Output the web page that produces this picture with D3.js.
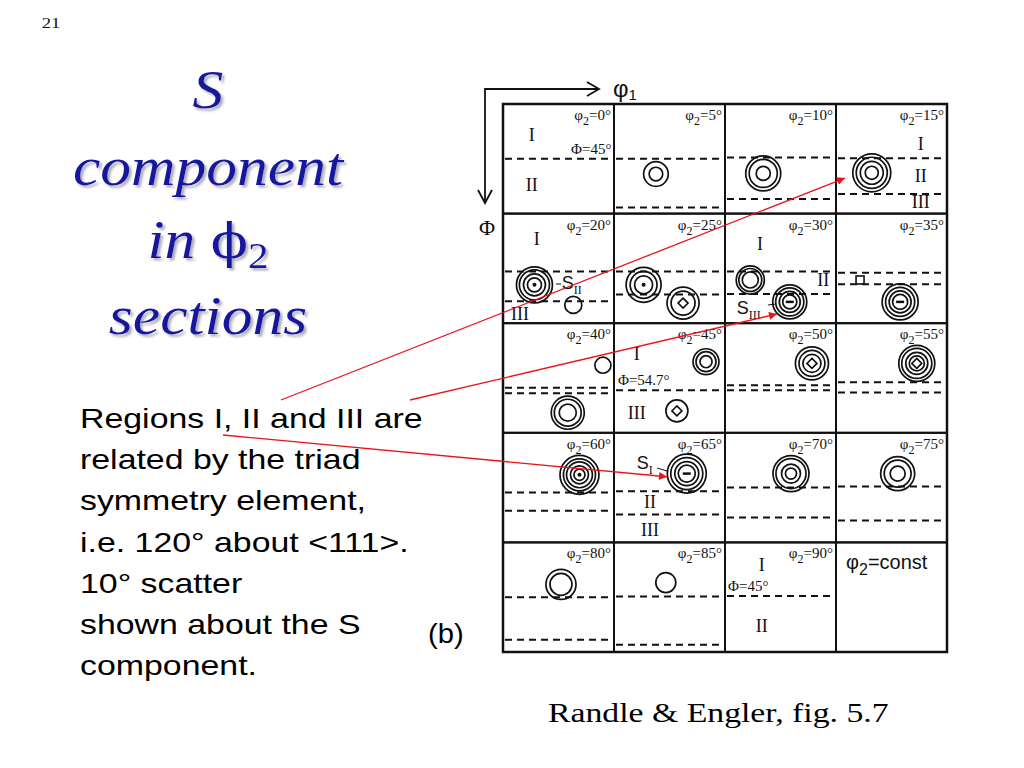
<!DOCTYPE html>
<html><head><meta charset="utf-8">
<script src="https://cdn.jsdelivr.net/npm/d3@7"></script>
<style>html,body{margin:0;padding:0;background:#fff;} svg{display:block}</style>
</head><body>
<svg id="c" width="1024" height="768"></svg>
<script>
// ---------- data ----------
const phi2Values = [0,5,10,15,20,25,30,35,40,45,50,55,60,65,70,75,80,85,90];
// Phi (deg) of the dashed region boundaries in each section
const boundaryLines = [[45],[45,85],[44,78],[44.5,74],[47.5,72],[47.5,66.5],[47.5,66],[48.5,58],
  [53,57.5],[55],[51,55],[48.5,57],[49,64],[48,67],[45,69.5],[44,72],[45,80],[44.5,84],[44]];
// contour peaks: section phi2, position (phi1, Phi) in degrees, ring radii in degrees, core mark
const contourPhi2 = [5,10,15,20,20,25,25,30,30,35,35,40,40,45,45,50,55,60,65,70,75,80,85];
const contourPhi1 = [34,31,29,25.5,57,24,56,20.5,52.5,19.5,52,81,52.5,74.6,51,70.5,65.5,62,59,53.5,50,47,42];
const contourPhi  = [57.5,57,56.5,58.5,75,58.5,73.5,54.5,72.5,54.5,72.5,34.5,73.5,31.6,72,33,33,34.5,33.5,33.5,33.5,34.5,33];
const contourRings = [[10,5.5],[14.2,11.4,5.7],[15.4,12.6,9.3,5.3],[14.6,12.2,8.9,5.7],[6.9],
  [14.2,10.9,7.3],[13,9.7],[11.4,9.3,6.5],[13.8,11.4,8.5,5.7],[],[14.6,11.8,8.9,6.1],[6.5],
  [13.4,10.9,6.9],[10.5,8.1,4.9],[8.9],[13.4,10.5,7.3],[14.6,12.2,8.9,6.1],[15.8,13,10.5,7.3,4.5],
  [15.8,13,9.7,6.9],[14.6,12.2,7.7,4.5],[13.8,10.9,6.1],[12.2,8.9],[8.1]];
const contourCore = ["none","none","none","dot","none","dot","diamond","none","dash","square","dash","none",
  "none","none","diamond","diamond","diamond","dot","dash","none","none","none","none"];
// region labels inside sections
const regionPhi2 = [0,0,0,15,15,15,20,20,30,30,45,45,45,65,65,90,90,90];
const regionText = ["I","II","Φ=45°","I","II","III","I","III","I","II","I","Φ=54.7°","III","II","III","I","Φ=45°","II"];
const regionPhi1 = [23.3,23.3,88,68.7,68.7,68.7,27.3,13.8,28.4,79.7,18.4,3.2,18.4,29.2,29.2,29.8,2.4,29.8];
const regionPhi  = [25.5,66.5,37,32.8,59,80,20.3,81.9,24.4,54.5,24.7,46.6,73.9,56.5,79.2,18.2,35.3,68];
// S component labels
const sPhi2 = [20,30,65];
const sSub  = ["II","III","I"];
const sPhi1 = [47.6,9.5,18.4];
const sPhi  = [57,77.5,24.8];
// red arrows: target section and (phi1, Phi) of the tip, start in slide coordinates
const arrowPhi2 = [15,30,65];
const arrowPhi1 = [7.3,42.2,43];
const arrowPhi  = [60.8,82.4,36.1];
const arrowStart = [[281,400],[410,400],[223,435]];
// slide texts
const titleLines = ["S","component","in ϕ2","sections"];
const bodyLines = ["Regions I, II and III are","related by the triad","symmetry element,",
  "i.e. 120° about <111>.","10° scatter","shown about the S","component."];

// ---------- drawing ----------
const svg = d3.select("#c");
svg.append("rect").attr("width",1024).attr("height",768).attr("fill","#fff");
const defs = svg.append("defs");
const f = defs.append("filter").attr("id","sh").attr("x","-10%").attr("y","-10%").attr("width","130%").attr("height","140%");
f.append("feDropShadow").attr("dx",2.5).attr("dy",2.5).attr("stdDeviation",1).attr("flood-color","#9a9aaa").attr("flood-opacity",0.8);

const col = d3.scaleBand().domain(d3.range(4)).range([503,947]);
const row = d3.scaleBand().domain(d3.range(5)).range([104,652]);
const sx = i => d3.scaleLinear().domain([0,90]).range([col(i%4), col(i%4)+col.bandwidth()]);
const sy = i => d3.scaleLinear().domain([0,90]).range([row(Math.floor(i/4)), row(Math.floor(i/4))+row.bandwidth()]);
const idx = p => phi2Values.indexOf(p);
const pxPerDeg = col.bandwidth()/90;

const g = svg.append("g");
// dashed boundaries
phi2Values.forEach((p,i)=>{
  const x=sx(i), y=sy(i);
  g.selectAll(null).data(boundaryLines[i]).enter().append("line")
    .attr("x1",x(0)+2).attr("x2",x(90)-1).attr("y1",d=>y(d)).attr("y2",d=>y(d))
    .attr("stroke","#111").attr("stroke-width",2).attr("stroke-dasharray","7,5");
});
// grid
const cells = d3.range(20);
g.selectAll(".cell").data(cells).enter().append("rect")
  .attr("x",i=>col(i%4)).attr("y",i=>row(Math.floor(i/4)))
  .attr("width",col.bandwidth()).attr("height",row.bandwidth())
  .attr("fill","none").attr("stroke","#111").attr("stroke-width",2);
g.append("rect").attr("x",503).attr("y",104).attr("width",444).attr("height",548)
  .attr("fill","none").attr("stroke","#111").attr("stroke-width",2.5);

// phi2 labels
phi2Values.forEach((p,i)=>{
  const t = g.append("text").attr("x",sx(i)(90)-3).attr("y",sy(i)(0)+16)
    .attr("text-anchor","end").attr("font-family","Liberation Serif, Times New Roman, serif")
    .attr("font-size",15).attr("fill","#111");
  t.append("tspan").text("φ");
  t.append("tspan").attr("dy",5).attr("font-size",12).text("2");
  t.append("tspan").attr("dy",-5).text("="+p+"°");
});
// const cell
{
  const t = g.append("text").attr("x",col(3)+10).attr("y",row(4)+27)
    .attr("font-family","Liberation Sans, Arial, sans-serif").attr("font-size",20).attr("fill","#111");
  t.append("tspan").text("φ");
  t.append("tspan").attr("dy",6).attr("font-size",16).text("2");
  t.append("tspan").attr("dy",-6).text("=const");
}

// contours
contourPhi2.forEach((p,k)=>{
  const i=idx(p), cx=sx(i)(contourPhi1[k]), cy=sy(i)(contourPhi[k]);
  g.selectAll(null).data(contourRings[k]).enter().append("circle")
    .attr("cx",cx).attr("cy",cy).attr("r",d=>d*pxPerDeg)
    .attr("fill","none").attr("stroke","#111").attr("stroke-width",1.7);
  const c = contourCore[k];
  if(c==="dot") g.append("circle").attr("cx",cx).attr("cy",cy).attr("r",2).attr("fill","#111");
  if(c==="dash") g.append("line").attr("x1",cx-4).attr("x2",cx+4).attr("y1",cy).attr("y2",cy).attr("stroke","#111").attr("stroke-width",2.5);
  if(c==="diamond") g.append("path").attr("d",`M${cx},${cy-5}L${cx+5},${cy}L${cx},${cy+5}L${cx-5},${cy}Z`).attr("fill","none").attr("stroke","#111").attr("stroke-width",1.6);
  if(c==="square") g.append("rect").attr("x",cx-4).attr("y",cy-4).attr("width",8).attr("height",8).attr("fill","none").attr("stroke","#111").attr("stroke-width",1.6);
});

// region labels
regionPhi2.forEach((p,k)=>{
  const i=idx(p); const txt=regionText[k]; const isPhi = txt.startsWith("Φ");
  g.append("text").attr("x",sx(i)(regionPhi1[k])).attr("y",sy(i)(regionPhi[k]))
    .attr("dy","0.35em").attr("text-anchor", isPhi ? (regionPhi1[k]>45?"end":"start") : "middle")
    .attr("font-family","Liberation Serif, Times New Roman, serif")
    .attr("font-size", isPhi?15:18).attr("fill","#111").text(txt);
});
// S labels
sPhi2.forEach((p,k)=>{
  const i=idx(p), x=sx(i)(sPhi1[k]), y=sy(i)(sPhi[k]);
  const t=g.append("text").attr("x",x).attr("y",y).attr("dy","0.35em")
    .attr("font-family","Liberation Sans, Arial, sans-serif").attr("font-size",18).attr("fill","#111");
  t.append("tspan").text("S");
  t.append("tspan").attr("dy",5).attr("font-size",12).attr("font-family","Liberation Serif, serif").text(sSub[k]);
});
// leader dashes from S labels
g.append("line").attr("x1",556).attr("x2",561).attr("y1",284).attr("y2",284).attr("stroke","#111").attr("stroke-width",1);
g.append("line").attr("x1",768).attr("x2",776).attr("y1",305).attr("y2",304).attr("stroke","#111").attr("stroke-width",1);
g.append("line").attr("x1",657).attr("x2",667).attr("y1",468).attr("y2",471).attr("stroke","#111").attr("stroke-width",1);

// axes arrows
const ax = svg.append("g").attr("stroke","#111").attr("stroke-width",1.8).attr("fill","none");
ax.append("path").attr("d","M485,203 L485,89 L599,89");
ax.append("path").attr("d","M587,82 L599,89 L587,96");
ax.append("path").attr("d","M478,190 L485,203 L492,190");
{
  const t=svg.append("text").attr("x",613).attr("y",97).attr("font-family","Liberation Sans, Arial, sans-serif")
    .attr("font-size",24).attr("fill","#111");
  t.append("tspan").text("φ");
  t.append("tspan").attr("dy",3).attr("font-size",15).text("1");
}
svg.append("text").attr("x",487).attr("y",235).attr("text-anchor","middle")
  .attr("font-family","Liberation Serif, Times New Roman, serif").attr("font-size",22).attr("fill","#111").text("Φ");

// red arrows
defs.append("marker").attr("id","ah").attr("viewBox","0 0 10 10").attr("refX",10).attr("refY",5)
  .attr("markerWidth",10).attr("markerHeight",8).attr("markerUnits","userSpaceOnUse").attr("orient","auto")
  .append("path").attr("d","M0,0L10,5L0,10Z").attr("fill","#e8141c");
arrowPhi2.forEach((p,k)=>{
  const i=idx(p);
  svg.append("line").attr("x1",arrowStart[k][0]).attr("y1",arrowStart[k][1])
    .attr("x2",sx(i)(arrowPhi1[k])).attr("y2",sy(i)(arrowPhi[k]))
    .attr("stroke","#e8141c").attr("stroke-width",1.3).attr("marker-end","url(#ah)");
});

// slide texts
svg.append("text").attr("transform","translate(51,28) scale(1.25,1)").attr("text-anchor","middle")
  .attr("font-family","Liberation Serif, Times New Roman, serif").attr("font-size",15).attr("fill","#111").text("21");

const titleY = [108,185,258,334];
const tg = svg.append("g").attr("filter","url(#sh)");
titleLines.forEach((s,k)=>{
  const t=tg.append("text").attr("transform",`translate(208,${titleY[k]}) scale(1.14,1)`).attr("text-anchor","middle")
    .attr("font-family","Liberation Serif, Times New Roman, serif").attr("font-style","italic")
    .attr("font-size",54).attr("fill","#17179e");
  if(s.indexOf("ϕ")>=0){
    t.append("tspan").text("in ");
    t.append("tspan").attr("font-style","normal").attr("font-family","DejaVu Serif, serif").attr("font-size",48).text("ϕ");
    t.append("tspan").attr("dy",10).attr("font-size",36).attr("font-style","normal").text("2");
  } else t.text(s);
});

svg.append("g").selectAll("text").data(bodyLines).enter().append("text")
  .attr("transform",(d,k)=>`translate(80,${428+k*41.2}) scale(1.21,1)`)
  .attr("font-family","Liberation Sans, Arial, sans-serif").attr("font-size",28).attr("fill","#000").text(d=>d);
svg.append("text").attr("transform","translate(428,643) scale(1.08,1)").attr("font-family","Liberation Sans, Arial, sans-serif")
  .attr("font-size",27).attr("fill","#000").text("(b)");
svg.append("text").attr("transform","translate(548,722) scale(1.25,1)").attr("font-family","Liberation Serif, Times New Roman, serif")
  .attr("font-size",27).attr("fill","#000").text("Randle & Engler, fig. 5.7");
</script>
</body></html>
